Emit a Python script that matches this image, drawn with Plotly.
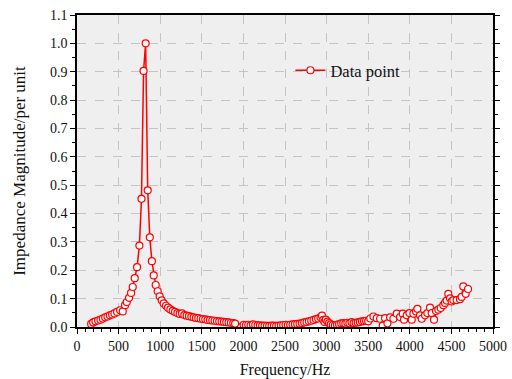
import plotly.graph_objects as go

freq_hz = [
    170, 194, 222, 254, 282, 310, 338, 366, 394, 422, 450, 482, 518, 550, 578, 598, 626, 650, 670, 694, 722, 750,
    775, 800, 825, 850, 875, 900, 922, 946, 970, 994, 1018, 1042, 1070, 1094, 1122, 1150, 1178, 1206,
    1234, 1262, 1290, 1318, 1346, 1374, 1402, 1430, 1458, 1486, 1514, 1542, 1570, 1598, 1626, 1654,
    1682, 1710, 1738, 1766, 1794, 1822, 1850, 1878, 1900,
    2003, 2031, 2059, 2087, 2115, 2143, 2171, 2199, 2227, 2255, 2283, 2311, 2339, 2367, 2395, 2423,
    2451, 2479, 2507, 2535, 2563, 2591, 2619, 2647, 2675, 2703, 2731, 2759, 2787, 2815, 2843, 2871,
    2899, 2927, 2945, 2960, 2975, 2990, 3010, 3030, 3050, 3075, 3100, 3125, 3150, 3175, 3200, 3225,
    3250, 3275, 3300, 3325, 3350, 3375, 3400, 3425, 3450, 3475, 3500, 3525, 3563, 3603, 3643, 3675,
    3703, 3731, 3763, 3803, 3843, 3883, 3915, 3931, 3963, 3995, 4023, 4043, 4075, 4091, 4123, 4143,
    4183, 4211, 4243, 4263, 4291, 4315, 4343, 4371, 4403, 4423, 4443, 4463, 4483, 4503, 4523, 4563,
    4603, 4623, 4643, 4672, 4700,
]
impedance_pu = [
    0.011, 0.016, 0.020, 0.023, 0.026, 0.030, 0.034, 0.037, 0.041, 0.044, 0.048, 0.053, 0.059, 0.055, 0.077, 0.088, 0.103, 0.120, 0.141, 0.172, 0.211, 0.287,
    0.452, 0.903, 1.000, 0.482, 0.316, 0.232, 0.182, 0.148, 0.126, 0.108, 0.094, 0.083, 0.075, 0.068, 0.062, 0.057, 0.053, 0.049,
    0.046, 0.048, 0.042, 0.040, 0.038, 0.036, 0.034, 0.032, 0.031, 0.029, 0.028, 0.027, 0.025, 0.024, 0.023, 0.022,
    0.021, 0.020, 0.019, 0.018, 0.017, 0.016, 0.015, 0.014, 0.012,
    0.008, 0.007, 0.008, 0.006, 0.009, 0.007, 0.006, 0.006, 0.005, 0.005, 0.004, 0.004, 0.005, 0.005, 0.004, 0.005,
    0.006, 0.007, 0.008, 0.007, 0.008, 0.009, 0.010, 0.011, 0.012, 0.014, 0.016, 0.018, 0.020, 0.022, 0.025, 0.028,
    0.030, 0.034, 0.040, 0.025, 0.018, 0.026, 0.019, 0.014, 0.009, 0.007, 0.006, 0.008, 0.010, 0.013, 0.014, 0.012,
    0.015, 0.013, 0.017, 0.014, 0.015, 0.016, 0.018, 0.020, 0.021, 0.022, 0.020, 0.030, 0.037, 0.031, 0.029, 0.005,
    0.031, 0.013, 0.034, 0.029, 0.047, 0.035, 0.047, 0.026, 0.041, 0.049, 0.026, 0.047, 0.055, 0.064, 0.041, 0.029,
    0.041, 0.049, 0.068, 0.049, 0.026, 0.056, 0.061, 0.067, 0.077, 0.085, 0.093, 0.117, 0.101, 0.090, 0.095, 0.095,
    0.098, 0.106, 0.143, 0.117, 0.134,
]

x_ticks = list(range(0, 5001, 500))
y_ticks = [round(0.1 * i, 1) for i in range(12)]

FONT = "Liberation Serif, Times New Roman, serif"

fig = go.Figure()
fig.add_trace(go.Scatter(
    x=freq_hz, y=impedance_pu, mode="lines+markers", name="Data point",
    line=dict(color="#ff0000", width=1.5),
    marker=dict(symbol="circle", size=7, color="white", line=dict(color="#ff0000", width=1.2)),
))

axis_common = dict(
    showline=True, linecolor="black", linewidth=1.5,
    gridcolor="#c4c4c4", griddash="dash", gridwidth=1,
    ticks="outside", ticklen=5, tickwidth=1, tickcolor="black",
    tickfont=dict(family=FONT, size=14, color="#111"),
    zeroline=False, automargin=False,
)

fig.update_xaxes(
    **axis_common, range=[0, 5000], tickvals=x_ticks, mirror=True,
    minor=dict(dtick=100, ticks="outside", ticklen=3, tickcolor="black", showgrid=False),
    title=dict(text="Frequency/Hz", font=dict(family=FONT, size=16, color="#111"), standoff=20),
)
fig.update_yaxes(
    **axis_common, range=[0, 1.1], tickvals=y_ticks, tickformat=".1f", mirror="ticks",
    minor=dict(dtick=0.05, ticks="outside", ticklen=3, tickcolor="black", showgrid=False),
    title=dict(text="Impedance Magnitude/per unit", font=dict(family=FONT, size=17, color="#111"), standoff=20),
)

fig.update_layout(
    width=512, height=379,
    margin=dict(l=77, r=19, t=15, b=52, autoexpand=False),
    paper_bgcolor="white", plot_bgcolor="#efefef",
    showlegend=True,
    legend=dict(x=0.513, y=0.822, xanchor="left", yanchor="middle",
                bgcolor="rgba(0,0,0,0)", font=dict(family=FONT, size=16.5, color="#111")),
)

fig.write_html("out.html")
